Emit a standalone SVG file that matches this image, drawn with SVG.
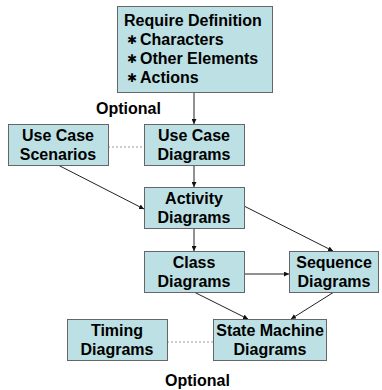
<svg xmlns="http://www.w3.org/2000/svg" width="382" height="390" viewBox="0 0 382 390">
<defs>
<marker id="ah" viewBox="0 0 10 10" refX="10" refY="5" markerWidth="5" markerHeight="5" orient="auto" markerUnits="userSpaceOnUse">
<path d="M0,0 L10,5 L0,10 z" fill="#111"/>
</marker>
</defs>
<style>
.box{fill:#bce0e3;stroke:#666;stroke-width:1}
.t{font-family:"Liberation Sans",Arial,sans-serif;font-weight:bold;font-size:16px;fill:#000}
.b{font-family:"DejaVu Sans",sans-serif;font-weight:bold;font-size:12px;fill:#000}
.c{text-anchor:middle}
.ln{stroke:#222;stroke-width:1;fill:none;marker-end:url(#ah)}
.dot{stroke:#999;stroke-width:1;stroke-dasharray:2,2;fill:none}
</style>
<rect width="382" height="390" fill="#fff"/>
<g id="connectors">
<line class="ln" x1="194" y1="92" x2="194" y2="124"/>
<line class="ln" x1="194" y1="165" x2="194" y2="187"/>
<line class="ln" x1="58" y1="165" x2="144" y2="209"/>
<line class="ln" x1="194" y1="228" x2="194" y2="251"/>
<line class="ln" x1="244" y1="206" x2="333" y2="251"/>
<line class="ln" x1="244" y1="274" x2="289" y2="274"/>
<line class="ln" x1="194" y1="292" x2="248" y2="319"/>
<line class="ln" x1="334" y1="292" x2="291" y2="319"/>
<line class="dot" x1="108" y1="147" x2="144" y2="147"/>
<line class="dot" x1="167" y1="342" x2="213" y2="342"/>
</g>
<g id="require">
<rect class="box" x="117.5" y="6.5" width="155" height="86"/>
<text class="t" x="124" y="26">Require Definition</text>
<text class="b" x="127" y="43.5">✱</text>
<text class="t" x="140" y="45">Characters</text>
<text class="b" x="127" y="62.5">✱</text>
<text class="t" x="140" y="64">Other Elements</text>
<text class="b" x="127" y="81.5">✱</text>
<text class="t" x="140" y="83">Actions</text>
</g>
<g id="optional-top"><text class="t" x="96" y="114">Optional</text></g>
<g id="usecase-scenarios">
<rect class="box" x="8.5" y="124.5" width="100" height="41"/>
<text class="t c" x="58" y="141">Use Case</text>
<text class="t c" x="58" y="160">Scenarios</text>
</g>
<g id="usecase-diagrams">
<rect class="box" x="144.5" y="124.5" width="100" height="41"/>
<text class="t c" x="194" y="141">Use Case</text>
<text class="t c" x="194" y="160">Diagrams</text>
</g>
<g id="activity">
<rect class="box" x="144.5" y="187.5" width="100" height="41"/>
<text class="t c" x="194" y="204">Activity</text>
<text class="t c" x="194" y="223">Diagrams</text>
</g>
<g id="class">
<rect class="box" x="144.5" y="251.5" width="100" height="41"/>
<text class="t c" x="194" y="268">Class</text>
<text class="t c" x="194" y="287">Diagrams</text>
</g>
<g id="sequence">
<rect class="box" x="289.5" y="251.5" width="89" height="41"/>
<text class="t c" x="334" y="268">Sequence</text>
<text class="t c" x="334" y="287">Diagrams</text>
</g>
<g id="timing">
<rect class="box" x="67.5" y="319.5" width="100" height="41"/>
<text class="t c" x="117" y="336">Timing</text>
<text class="t c" x="117" y="355">Diagrams</text>
</g>
<g id="statemachine">
<rect class="box" x="213.5" y="319.5" width="113" height="41"/>
<text class="t c" x="270" y="336">State Machine</text>
<text class="t c" x="270" y="355">Diagrams</text>
</g>
<g id="optional-bottom"><text class="t" x="165" y="386">Optional</text></g>
</svg>
